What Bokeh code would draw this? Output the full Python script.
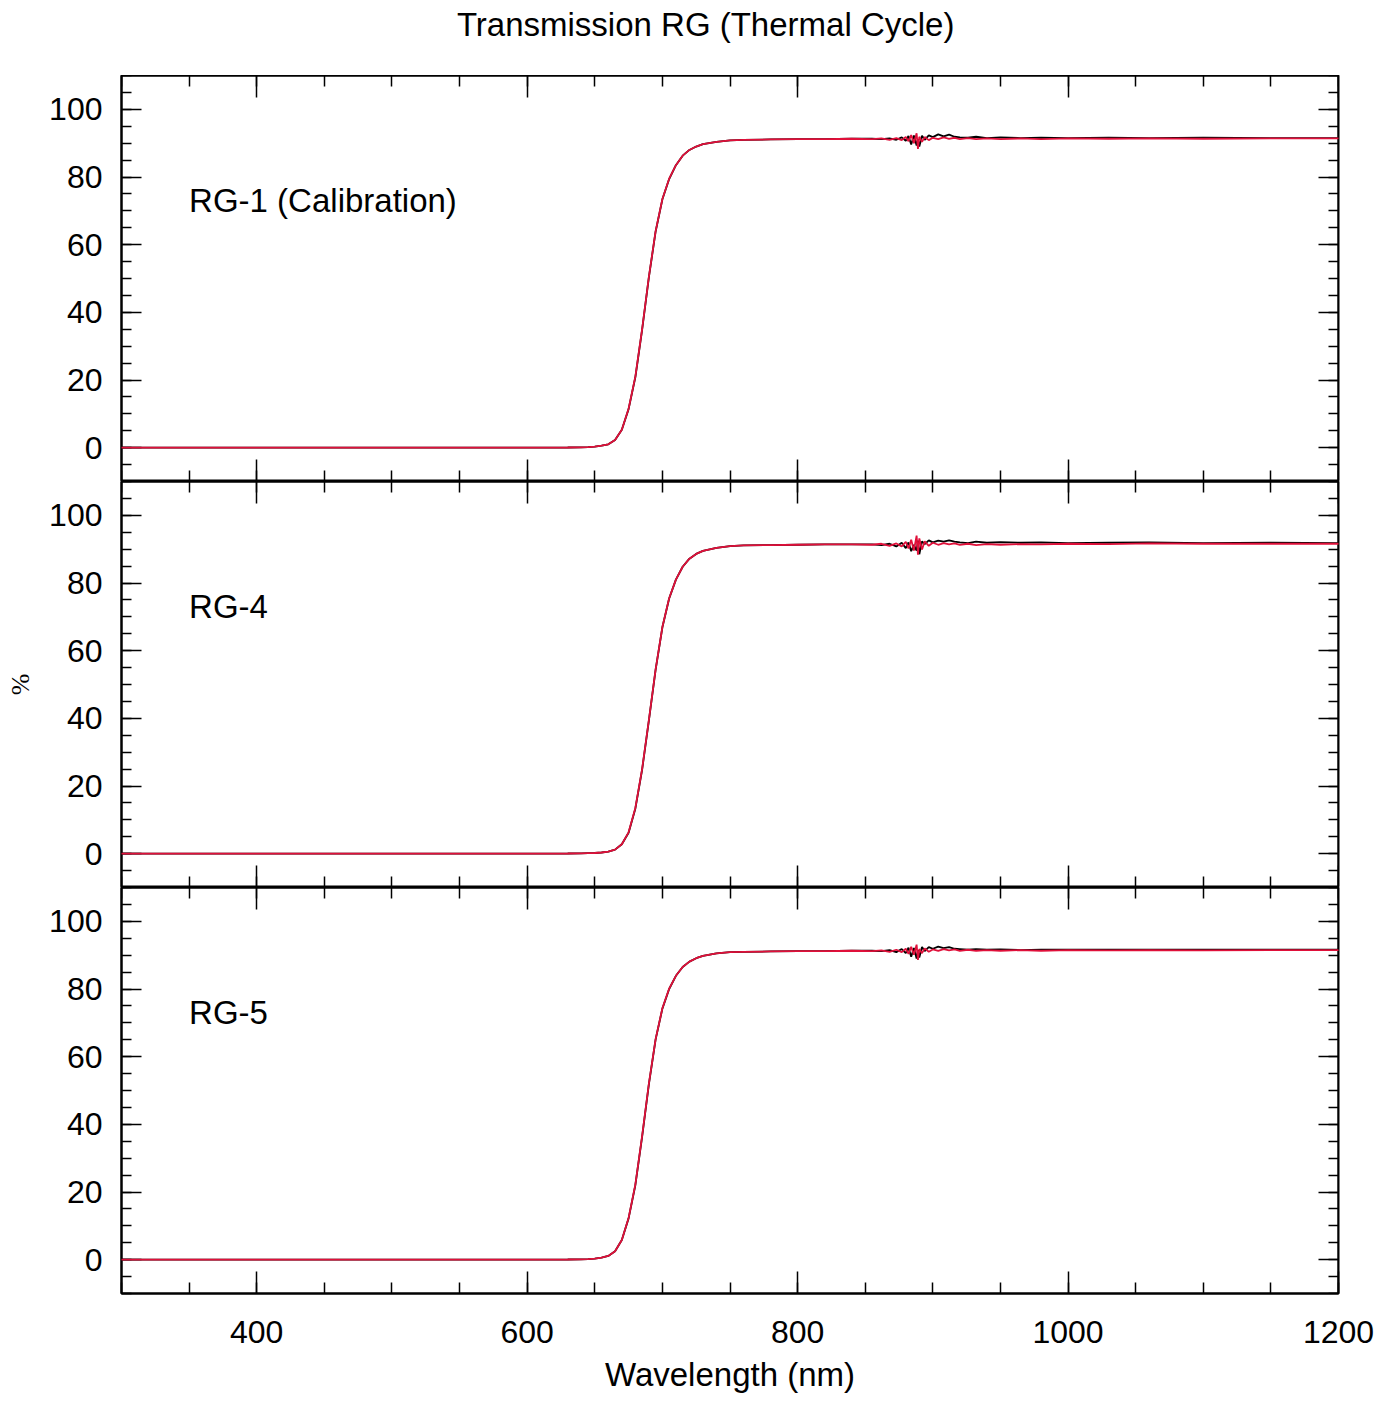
from bokeh.plotting import figure
from bokeh.layouts import column
from bokeh.models import LinearAxis, SingleIntervalTicker, Range1d, Label, ColumnDataSource
from bokeh.embed import file_html
from bokeh.resources import INLINE

# ---------------- data ----------------
title_text = "Transmission RG (Thermal Cycle)"
panel_names = ["RG-1 (Calibration)", "RG-4", "RG-5"]
x_label = "Wavelength (nm)"
y_label = "%"

wavelength = [300, 400, 500, 600, 630, 640, 645, 650, 655, 660, 665, 670, 675, 680,
              685, 690, 695, 700, 705, 710, 715, 720, 725, 730, 740, 750, 760, 780,
              800, 820, 840, 855, 862, 868, 873, 877, 880, 882, 884, 886, 888, 889,
              890, 892, 894, 897, 900, 904, 908, 912, 916, 920, 926, 932, 940, 950,
              965, 980, 1000, 1030, 1060, 1100, 1150, 1200]

rg1_before = [0.0, 0.0, 0.0, 0.0, 0.05, 0.1, 0.15, 0.3, 0.6, 1.0, 2.3, 5.3, 11.4, 20.8,
              34.8, 50.3, 63.9, 73.4, 79.4, 83.5, 86.3, 88.0, 89.0, 89.7, 90.4, 90.8, 91.0, 91.1,
              91.2, 91.2, 91.3, 91.3, 91.2, 91.4, 91.0, 91.7, 90.7, 92.1, 89.6, 92.3, 89.3, 91.2,
              89.0, 92.2, 91.0, 92.3, 91.8, 92.6, 92.0, 92.5, 91.9, 91.7, 91.6, 91.9, 91.5, 91.7,
              91.5, 91.6, 91.5, 91.6, 91.5, 91.6, 91.5, 91.5]
rg1_after = [0.0, 0.0, 0.0, 0.0, 0.05, 0.1, 0.15, 0.3, 0.6, 1.0, 2.3, 5.3, 11.5, 21.0,
             35.0, 50.5, 64.0, 73.5, 79.5, 83.5, 86.3, 88.0, 89.0, 89.7, 90.4, 90.8, 91.0, 91.1,
             91.2, 91.2, 91.3, 91.2, 91.4, 91.0, 91.5, 90.9, 91.8, 90.6, 92.4, 90.0, 92.9, 88.3,
             91.9, 90.4, 91.8, 90.9, 91.6, 91.2, 91.7, 91.3, 91.6, 91.2, 91.5, 91.2, 91.4, 91.2,
             91.4, 91.2, 91.4, 91.3, 91.4, 91.3, 91.4, 91.4]

rg4_before = [0.0, 0.0, 0.0, 0.0, 0.05, 0.1, 0.15, 0.2, 0.35, 0.6, 1.2, 2.8, 6.2, 13.3,
              24.8, 39.3, 54.4, 66.9, 75.4, 81.0, 84.8, 87.2, 88.6, 89.5, 90.4, 90.9, 91.1, 91.2,
              91.3, 91.4, 91.4, 91.4, 91.2, 91.6, 90.8, 91.9, 90.3, 92.0, 89.4, 91.3, 89.6, 92.5,
              88.5, 92.3, 91.5, 92.6, 92.0, 92.5, 92.2, 92.6, 92.2, 92.0, 91.8, 92.2, 91.9, 92.1,
              91.9, 92.0, 91.8, 91.9, 92.0, 91.8, 91.9, 91.8]
rg4_after = [0.0, 0.0, 0.0, 0.0, 0.05, 0.1, 0.15, 0.2, 0.35, 0.6, 1.2, 2.8, 6.3, 13.5,
             25.0, 39.5, 54.5, 67.0, 75.5, 81.0, 84.8, 87.2, 88.6, 89.5, 90.4, 90.9, 91.1, 91.2,
             91.3, 91.4, 91.4, 91.3, 91.6, 91.0, 91.7, 90.8, 92.2, 90.2, 92.8, 89.6, 94.0, 88.4,
             93.2, 89.9, 92.3, 91.0, 91.9, 91.3, 91.8, 91.4, 91.7, 91.3, 91.6, 91.2, 91.5, 91.3,
             91.5, 91.4, 91.6, 91.5, 91.7, 91.6, 91.6, 91.6]

rg5_before = [0.0, 0.0, 0.0, 0.0, 0.05, 0.1, 0.15, 0.3, 0.6, 1.1, 2.5, 5.8, 12.2, 22.0,
              36.3, 51.8, 65.1, 74.2, 80.0, 83.9, 86.5, 88.1, 89.1, 89.8, 90.5, 90.9, 91.0, 91.1,
              91.2, 91.2, 91.3, 91.3, 91.2, 91.5, 90.9, 91.8, 90.6, 92.2, 89.5, 92.1, 89.0, 91.5,
              89.3, 92.4, 91.2, 92.4, 91.9, 92.5, 92.1, 92.4, 91.9, 91.8, 91.6, 91.8, 91.6, 91.7,
              91.5, 91.6, 91.6, 91.6, 91.6, 91.6, 91.6, 91.6]
rg5_after = [0.0, 0.0, 0.0, 0.0, 0.05, 0.1, 0.15, 0.3, 0.6, 1.1, 2.5, 5.8, 12.3, 22.2,
             36.5, 52.0, 65.2, 74.3, 80.1, 83.9, 86.5, 88.1, 89.1, 89.8, 90.5, 90.9, 91.0, 91.1,
             91.2, 91.2, 91.3, 91.2, 91.4, 91.0, 91.6, 90.9, 91.9, 90.4, 92.5, 90.1, 93.1, 88.6,
             91.8, 90.6, 92.0, 91.0, 91.7, 91.3, 91.8, 91.4, 91.7, 91.3, 91.6, 91.3, 91.5, 91.3,
             91.5, 91.3, 91.5, 91.4, 91.5, 91.4, 91.5, 91.5]

# ---------------- styling ----------------
FONT = "Liberation Sans"
RED = "#e0103a"
FRAME_W = 1217
FRAME_H = 406
LEFT_B = 121
RIGHT_B = 38
TITLE_BAND = 75


def style_axis(ax, major_len, minor_len, show_labels):
    ax.axis_line_color = "black"
    ax.axis_line_width = 2
    ax.major_tick_line_color = "black"
    ax.minor_tick_line_color = "black"
    ax.major_tick_line_width = 1.5
    ax.minor_tick_line_width = 1.5
    ax.major_tick_in = major_len
    ax.major_tick_out = 0
    ax.minor_tick_in = minor_len
    ax.minor_tick_out = 0
    ax.major_label_text_font = FONT
    ax.major_label_text_font_size = "32px"
    ax.major_label_text_color = "black"
    if not show_labels:
        ax.major_label_text_alpha = 0


# title band (same horizontal geometry as the panels)
p0 = figure(frame_width=FRAME_W, frame_height=TITLE_BAND,
            x_range=Range1d(300, 1200), y_range=Range1d(0, TITLE_BAND),
            x_axis_location=None, y_axis_location=None,
            output_backend="svg", toolbar_location=None,
            min_border_left=LEFT_B, min_border_right=RIGHT_B,
            min_border_top=0, min_border_bottom=0)
p0.grid.visible = False
p0.outline_line_color = None
p0.background_fill_color = "white"
p0.border_fill_color = "white"
p0.add_layout(Label(x=732, y=51, text=title_text, text_font=FONT, text_font_size="33px",
                    text_align="center", text_baseline="middle", text_color="black"))


def make_panel(name, before, after, bottom=False, ylab=None):
    p = figure(frame_width=FRAME_W, frame_height=FRAME_H,
               x_range=Range1d(300, 1200), y_range=Range1d(-10, 110),
               x_axis_location=None, y_axis_location=None,
               output_backend="svg", toolbar_location=None,
               min_border_left=LEFT_B, min_border_right=RIGHT_B,
               min_border_top=0,
               min_border_bottom=100 if bottom else 0)
    p.grid.visible = False
    p.outline_line_color = "black"
    p.outline_line_width = 2
    p.background_fill_color = "white"
    p.border_fill_color = "white"

    left = LinearAxis(ticker=SingleIntervalTicker(interval=20, num_minor_ticks=4))
    style_axis(left, 20, 10, True)
    left.major_label_standoff = 19
    if ylab:
        left.axis_label = ylab
        left.axis_label_text_font = "Liberation Serif"
        left.axis_label_text_font_size = "26px"
        left.axis_label_text_font_style = "normal"
        left.axis_label_text_color = "black"
        left.axis_label_standoff = 11
    p.add_layout(left, "left")

    right = LinearAxis(ticker=SingleIntervalTicker(interval=20, num_minor_ticks=4),
                       fixed_location=1200)
    style_axis(right, 20, 10, False)
    p.add_layout(right, "right")

    above = LinearAxis(ticker=SingleIntervalTicker(interval=200, num_minor_ticks=4),
                       fixed_location=110)
    style_axis(above, 22, 11, False)
    p.add_layout(above, "above")

    if bottom:
        below = LinearAxis(ticker=SingleIntervalTicker(interval=200, num_minor_ticks=4),
                           axis_label=x_label)
        style_axis(below, 22, 11, True)
        below.major_label_standoff = 27
        below.axis_label_text_font = FONT
        below.axis_label_text_font_size = "33px"
        below.axis_label_text_font_style = "normal"
        below.axis_label_text_color = "black"
        below.axis_label_standoff = 10
    else:
        below = LinearAxis(ticker=SingleIntervalTicker(interval=200, num_minor_ticks=4),
                           fixed_location=-10)
        style_axis(below, 22, 11, False)
    p.add_layout(below, "below")

    src = ColumnDataSource(dict(x=wavelength, before=before, after=after))
    p.line("x", "before", source=src, line_color="black", line_width=1.8, level="overlay")
    p.line("x", "after", source=src, line_color=RED, line_width=1.8, level="overlay")

    p.add_layout(Label(x=350, y=73, text=name, text_font=FONT, text_font_size="33px",
                       text_baseline="middle", text_align="left", text_color="black"))
    return p


p1 = make_panel(panel_names[0], rg1_before, rg1_after)
p2 = make_panel(panel_names[1], rg4_before, rg4_after, ylab=y_label)
p3 = make_panel(panel_names[2], rg5_before, rg5_after, bottom=True)

layout = column(p0, p1, p2, p3, spacing=0)
open("out.html", "w").write(file_html(layout, INLINE))
